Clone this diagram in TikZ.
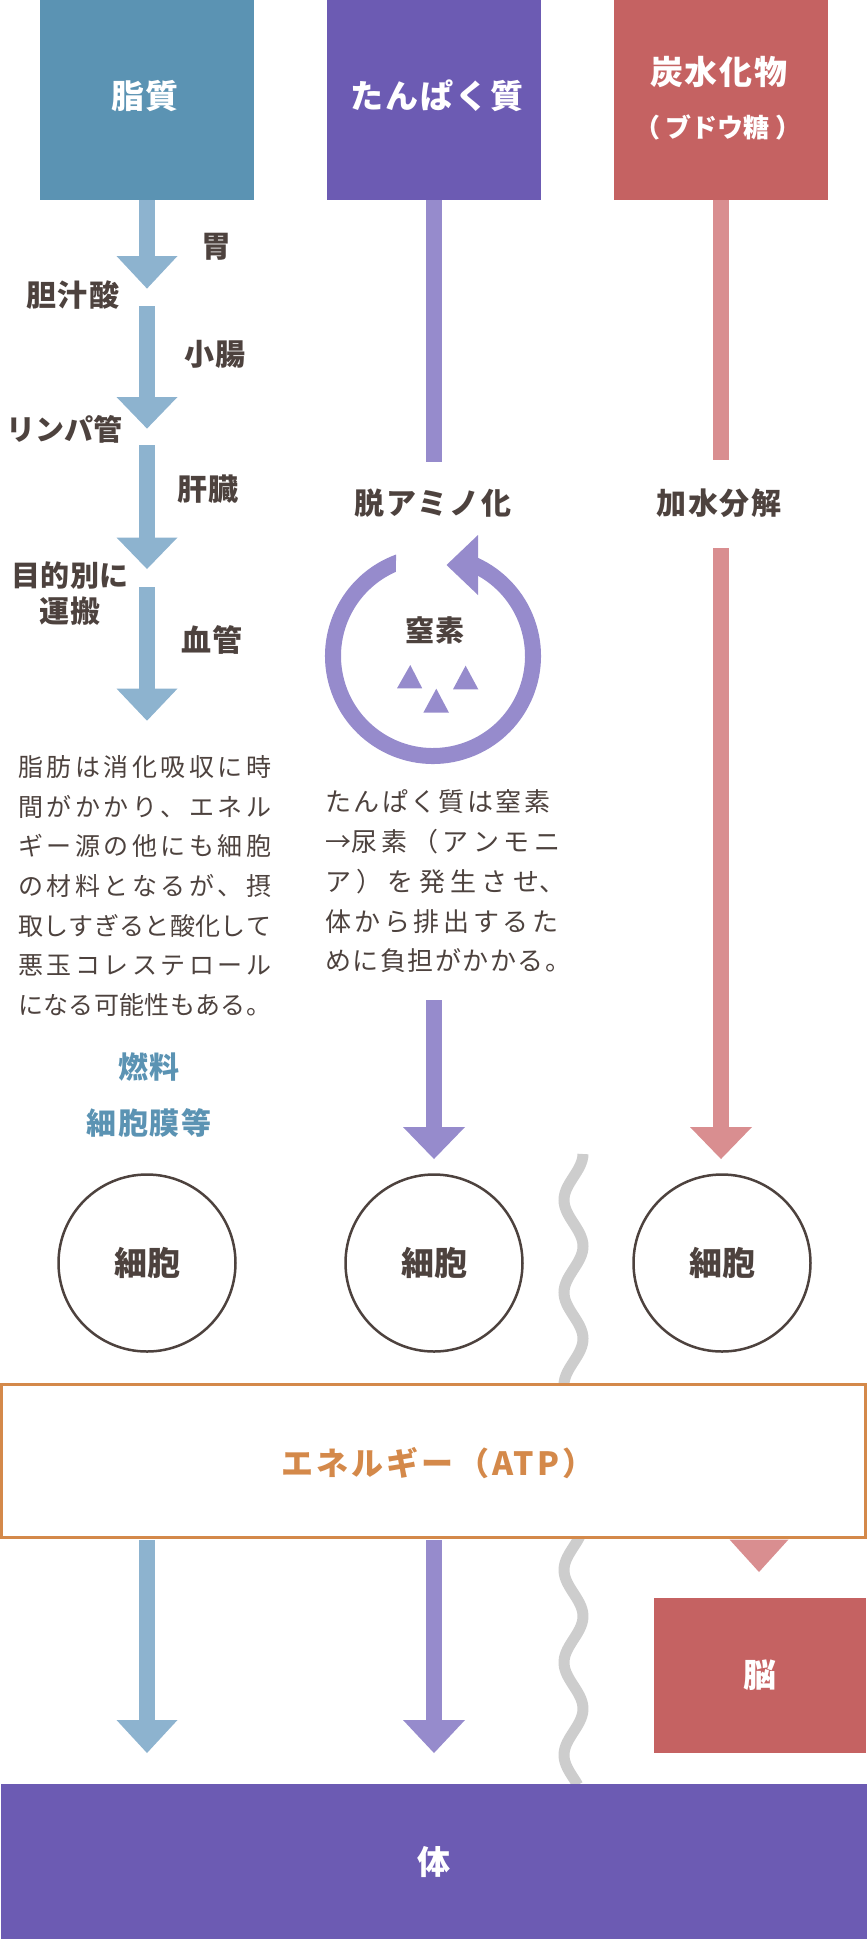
\documentclass[tikz,border=0pt]{standalone}
\usepackage{fontspec}
\setmainfont{Noto Sans CJK JP}
\definecolor{bBlue}{HTML}{5B93B3}
\definecolor{aBlue}{HTML}{8DB3CF}
\definecolor{bPurple}{HTML}{6C5BB3}
\definecolor{aPurple}{HTML}{968BCC}
\definecolor{bRed}{HTML}{C56262}
\definecolor{aPink}{HTML}{D98E90}
\definecolor{txt}{HTML}{4D423E}
\definecolor{eOrange}{HTML}{D4894A}
\definecolor{wGray}{HTML}{CDCDCD}
\newcommand\fsz[1]{\fontsize{#1}{#1}\selectfont}
\newcommand\jfill{\spaceskip=0pt plus 1fil\relax}
% vertical arrow: color, x, y0, ybase, ytip, half head width
\newcommand\varr[6]{%
  \fill[#1] ({#2-8},{-#3}) rectangle ({#2+8},{-#4-0.5});
  \fill[#1] ({#2-#6},{-#4}) -- ({#2+#6},{-#4}) -- (#2,{-#5}) -- cycle;}
\begin{document}
\begin{tikzpicture}[x=1pt,y=1pt,
  tbox/.style={minimum width=214pt, minimum height=200pt, inner sep=0pt, anchor=north},
  ttxt/.style={inner sep=0pt, text=white, font=\fsz{33}\bfseries\addfontfeature{LetterSpace=6}},
  lbl/.style={inner sep=0pt, text=txt, font=\fsz{30}\bfseries\addfontfeature{LetterSpace=4}},
  mlbl/.style={inner sep=0pt, text=txt, font=\fsz{30}\bfseries\addfontfeature{LetterSpace=6}},
  blbl/.style={inner sep=0pt, text=bBlue, font=\fsz{30}\bfseries\addfontfeature{LetterSpace=6}},
  lpara/.style={inner sep=0pt, anchor=west, text=txt, font=\fsz{25}},
  mpara/.style={inner sep=0pt, anchor=west, text=txt, font=\fsz{26}},
  cell/.style={circle, draw=txt, line width=2.5pt, minimum size=177pt, inner sep=0pt, text=txt, font=\fsz{33}\bfseries},
  tri/.style={fill=aPurple}
]
\useasboundingbox (0,0) rectangle (867,-1939);

% top boxes
\node[tbox, fill=bBlue] (fat) at (147,0) {};
\node[tbox, fill=bPurple] (prot) at (434,0) {};
\node[tbox, fill=bRed] (carb) at (721,0) {};
\node[ttxt] (fatT) at (145,-96) {脂質};
\node[ttxt] (protT) at (437,-96) {たんぱく質};
\node[ttxt] (carbT) at (719,-72) {炭水化物};
\node[ttxt, font=\fsz{26}\bfseries] (carbT2) at (718,-127) {（\hspace{6pt}ブドウ糖\hspace{6pt}）};

% left column arrows
\varr{aBlue}{147}{200}{256}{288.6}{30.5}
\varr{aBlue}{147}{306}{397}{428.6}{30.5}
\varr{aBlue}{147}{444.6}{537.5}{569}{30.5}
\varr{aBlue}{147}{586.8}{688.6}{720.7}{30.5}

\node[lbl] (l1) at (216,-247) {胃};
\node[lbl] (l2) at (73,-294.6) {胆汁酸};
\node[lbl] (l3) at (215,-354) {小腸};
\node[lbl, font=\fsz{29}\bfseries] (l4) at (64,-429) {リンパ管};
\node[lbl] (l5) at (208,-489) {肝臓};
\node[lbl, font=\fsz{29}\bfseries\addfontfeature{LetterSpace=2}] (l6) at (70,-575) {目的別に};
\node[lbl] (l7) at (70,-610.7) {運搬};
\node[lbl] (l8) at (212,-640) {血管};

% middle / right upper lines
\fill[aPurple] (426,-200) rectangle (442,-462);
\fill[aPink] (713,-200) rectangle (729,-460);
\node[mlbl] (deam) at (433,-503) {脱アミノ化};
\node[mlbl] (hydro) at (719,-503) {加水分解};

% nitrogen cycle
\fill[aPurple] ([shift={(433,-656)}]110:108) arc[start angle=110, end angle=425.4, radius=108]
  -- ([shift={(433,-656)}]420.7:92) arc[start angle=420.7, end angle=113.8, radius=92] -- cycle;
\fill[aPurple] (478,-535) -- (446.5,-565) -- (478,-595) -- cycle;
\node[mlbl, font=\fsz{29}\bfseries\addfontfeature{LetterSpace=4}] (nitro) at (435,-630) {窒素};
\fill[tri] (397,-688.3) -- (422.2,-688.3) -- (410.3,-665) -- cycle;
\fill[tri] (453,-689.3) -- (478.3,-689.3) -- (465.6,-665.7) -- cycle;
\fill[tri] (423.3,-712.7) -- (449,-712.7) -- (436.3,-688.7) -- cycle;

% left paragraph
\node[lpara] (p1) at (18,-767) {\makebox[253pt][s]{\jfill 脂 肪 は 消 化 吸 収 に 時}};
\node[lpara] (p2) at (18,-806.5) {\makebox[253pt][s]{\jfill 間 が か か り 、 エ ネ ル}};
\node[lpara] (p3) at (18,-846) {\makebox[253pt][s]{\jfill ギ ー 源 の 他 に も 細 胞}};
\node[lpara] (p4) at (18,-886) {\makebox[253pt][s]{\jfill の 材 料 と な る が 、 摂}};
\node[lpara] (p5) at (18,-926) {\makebox[253pt][s]{\jfill 取 し す ぎ る と 酸 化 し て}};
\node[lpara] (p6) at (18,-965.5) {\makebox[253pt][s]{\jfill 悪 玉 コ レ ス テ ロ ー ル}};
\node[lpara] (p7) at (18,-1005) {\makebox[253pt][s]{\jfill に な る 可 能 性 も あ る 。}};

% middle paragraph
\node[mpara] (m1) at (325,-802) {\makebox[225pt][s]{\jfill た ん ぱ く 質 は 窒 素}};
\node[mpara] (m2) at (325,-842) {\makebox[235pt][s]{\jfill →尿 素 （ ア ン モ ニ}};
\node[mpara] (m3) at (325,-882) {\makebox[240pt][s]{\jfill ア ） を 発 生 さ せ、}};
\node[mpara] (m4) at (325,-922) {\makebox[233pt][s]{\jfill 体 か ら 排 出 す る た}};
\node[mpara] (m5) at (325,-961) {\makebox[246pt][s]{\jfill め に 負 担 が か か る 。}};

% fuel labels
\node[blbl] (fuel) at (149,-1067) {燃料};
\node[blbl] (memb) at (149,-1123) {細胞膜等};

% arrows into cells
\varr{aPurple}{434}{1000}{1127}{1159}{31}
\varr{aPink}{721}{548}{1127}{1159}{31}

% wavy separator
\draw[wGray, line width=11pt] plot[domain=1154:1785, samples=220, smooth, variable=\t]
  ({573.5-9.5*cos((\t-1200)*3.8919)}, {-\t});

% cells
\node[cell] (c1) at (147,-1263) {細胞};
\node[cell] (c2) at (434,-1263) {細胞};
\node[cell] (c3) at (722,-1263) {細胞};

% energy box
\node[draw=eOrange, line width=2.5pt, fill=white, minimum width=864pt, minimum height=153pt, inner sep=0pt] (atp) at (433.5,-1461) {};
\node[inner sep=0pt, text=eOrange, font=\fsz{32}\bfseries\addfontfeature{LetterSpace=10}] (atpT) at (438,-1463) {エネルギー（ATP）};

% lower arrows
\varr{aBlue}{147}{1539.5}{1720}{1753}{30.5}
\varr{aPurple}{434}{1539.5}{1720}{1753}{31}
\fill[aPink] (729.5,-1539.5) -- (788.5,-1539.5) -- (759,-1572) -- cycle;

% brain box
\node[fill=bRed, minimum width=212pt, minimum height=155pt, inner sep=0pt, text=white, font=\fsz{33}\bfseries] (brain) at (760,-1675.5) {脳};

% body box
\node[fill=bPurple, minimum width=866pt, minimum height=155pt, inner sep=0pt, text=white, font=\fsz{33}\bfseries] (body) at (433.5,-1861.5) {体};
\end{tikzpicture}
\end{document}
